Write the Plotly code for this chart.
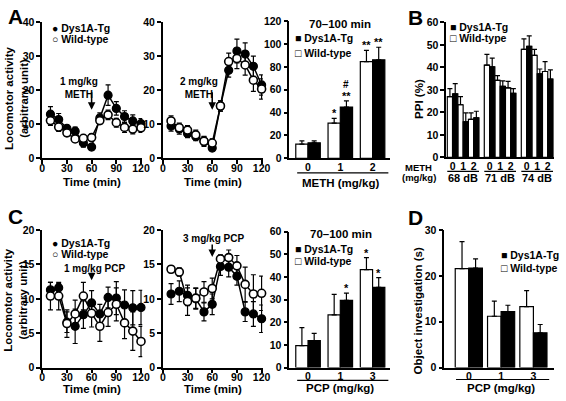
import plotly.graph_objects as go

W, H = 566, 401

# ---------------- data ----------------
time_min = [10, 20, 30, 40, 50, 60, 70, 80, 90, 100, 110, 120]
time_ticks = [0, 30, 60, 90, 120]

# A: METH time course (left 1 mg/kg, middle 2 mg/kg)
a1_tg = [13.0, 11.4, 8.8, 8.0, 4.5, 3.3, 11.9, 18.6, 14.7, 12.3, 11.0, 10.2]
a1_tg_err = [2.2, 1.8, 1.0, 1.2, 1.2, 0.8, 1.5, 3.0, 2.0, 1.7, 1.8, 1.5]
a1_wt = [11.1, 9.2, 7.5, 5.7, 5.9, 6.1, 11.1, 12.8, 10.5, 9.1, 8.6, 9.0]
a1_wt_err = [1.4, 1.3, 1.0, 1.0, 1.0, 1.0, 1.0, 1.4, 1.3, 1.5, 1.4, 1.4]
a2_tg = [9.5, 8.6, 7.3, 6.4, 5.1, 3.0, 15.4, 25.9, 31.6, 30.7, 27.1, 21.6]
a2_tg_err = [1.5, 1.5, 1.2, 1.2, 1.3, 0.8, 1.5, 2.0, 3.5, 3.3, 3.0, 3.0]
a2_wt = [11.0, 9.0, 8.3, 6.9, 5.0, 4.5, 15.4, 28.5, 29.4, 27.5, 23.0, 20.4]
a2_wt_err = [1.5, 1.4, 1.3, 1.4, 1.5, 1.2, 1.5, 2.5, 3.0, 3.0, 3.3, 3.0]

# A: 70-100 min totals
meth_doses = ["0", "1", "2"]
a3_wt = [12.4, 30.8, 84.7]
a3_wt_err = [2.9, 4.2, 9.7]
a3_tg = [13.6, 44.9, 86.2]
a3_tg_err = [1.7, 5.4, 11.0]
a3_wt_sig = ["", "*", "**"]
a3_tg_sig = ["", "**", "**"]
a3_tg_hash = ["", "#", ""]

# B: PPI
ppi_levels = ["68 dB", "71 dB", "74 dB"]
b_wt = [[27.0, 23.4, 16.9], [41.0, 34.2, 30.9], [48.0, 45.4, 38.2]]
b_wt_err = [[3.6, 3.6, 2.9], [4.8, 2.2, 2.9], [4.7, 2.6, 4.4]]
b_tg = [[28.2, 15.8, 17.6], [40.3, 31.6, 28.5], [49.4, 37.1, 34.8]]
b_tg_err = [[4.6, 4.0, 2.9], [3.8, 2.4, 2.1], [4.6, 2.2, 4.1]]

# C: PCP time course (left 1 mg/kg, middle 3 mg/kg)
c1_tg = [11.3, 11.6, 6.6, 6.0, 7.7, 9.4, 7.8, 10.2, 10.1, 9.1, 8.7, 8.75]
c1_tg_err = [1.1, 0.6, 1.5, 2.5, 2.0, 1.8, 1.4, 1.5, 2.4, 2.2, 2.5, 2.5]
c1_wt = [10.4, 10.4, 6.4, 7.8, 10.4, 7.9, 6.0, 8.0, 9.2, 6.5, 5.3, 3.8]
c1_wt_err = [2.0, 2.0, 2.0, 2.0, 2.0, 2.0, 2.2, 2.0, 2.4, 2.3, 2.8, 2.2]
c2_tg = [10.7, 11.1, 10.5, 10.0, 8.1, 9.2, 14.7, 14.6, 13.3, 8.1, 7.8, 7.1]
c2_tg_err = [1.5, 1.5, 1.5, 1.5, 1.3, 1.5, 1.3, 1.4, 1.3, 1.4, 1.8, 2.0]
c2_wt = [14.3, 13.9, 9.6, 10.1, 11.0, 11.5, 15.8, 16.0, 14.8, 12.1, 10.7, 10.8]
c2_wt_err = [0.5, 0.6, 2.0, 1.5, 1.5, 1.5, 0.6, 1.1, 1.5, 2.5, 2.8, 2.5]

# C: 70-100 min totals
pcp_doses = ["0", "1", "3"]
c3_wt = [9.7, 23.3, 43.3]
c3_wt_err = [7.9, 9.0, 5.3]
c3_tg = [11.9, 29.7, 35.4]
c3_tg_err = [3.2, 3.2, 4.3]
c3_wt_sig = ["", "", "*"]
c3_tg_sig = ["", "*", "*"]

# D: object investigation
d_wt = [21.6, 11.2, 13.3]
d_wt_err = [5.9, 3.3, 3.5]
d_tg = [21.7, 12.2, 7.6]
d_tg_err = [2.0, 1.4, 1.8]

# ---------------- helpers ----------------
FAM = "Liberation Sans, Arial, Helvetica, sans-serif"


def fx(p):
    return p / W


def fy(p):
    return 1 - p / H


def font(size):
    return dict(family=FAM, size=size, color="black", weight="bold")


fig = go.Figure()


def line_pair(tg, tg_err, wt, wt_err, xa, ya):
    fig.add_trace(go.Scatter(
        x=time_min, y=tg, xaxis=xa, yaxis=ya, mode="lines+markers",
        line=dict(color="black", width=1.5),
        marker=dict(symbol="circle", size=8, color="black",
                    line=dict(color="black", width=1.2)),
        error_y=dict(type="data", array=tg_err, color="black", thickness=1.2, width=2.5),
        cliponaxis=False, showlegend=False))
    fig.add_trace(go.Scatter(
        x=time_min, y=wt, xaxis=xa, yaxis=ya, mode="lines+markers",
        line=dict(color="black", width=1.5),
        marker=dict(symbol="circle", size=8, color="white",
                    line=dict(color="black", width=1.6)),
        error_y=dict(type="data", array=wt_err, color="black", thickness=1.2, width=2.5),
        cliponaxis=False, showlegend=False))


def bar(xs, ys, errs, color, width, xa, ya):
    fig.add_trace(go.Bar(
        x=xs, y=ys, width=width, xaxis=xa, yaxis=ya,
        marker=dict(color=color, line=dict(color="black", width=1.2)),
        error_y=dict(type="data", symmetric=False, array=errs,
                     arrayminus=[0] * len(errs), color="black", thickness=1.2, width=2.5),
        cliponaxis=False, showlegend=False))


# A time courses
line_pair(a1_tg, a1_tg_err, a1_wt, a1_wt_err, "x", "y")
line_pair(a2_tg, a2_tg_err, a2_wt, a2_wt_err, "x2", "y2")
# C time courses
line_pair(c1_tg, c1_tg_err, c1_wt, c1_wt_err, "x5", "y5")
line_pair(c2_tg, c2_tg_err, c2_wt, c2_wt_err, "x6", "y6")

# A3 bars
idx3 = list(range(len(meth_doses)))
bar([i - 0.19 for i in idx3], a3_wt, a3_wt_err, "white", 0.38, "x3", "y3")
bar([i + 0.19 for i in idx3], a3_tg, a3_tg_err, "black", 0.38, "x3", "y3")

# B bars
for g in range(len(ppi_levels)):
    bar([g * 7 + 2 * d for d in range(3)], b_wt[g], b_wt_err[g], "white", 1.0, "x4", "y4")
    bar([g * 7 + 2 * d + 1 for d in range(3)], b_tg[g], b_tg_err[g], "black", 1.0, "x4", "y4")

# C3 bars
idxp = list(range(len(pcp_doses)))
bar([i - 0.19 for i in idxp], c3_wt, c3_wt_err, "white", 0.38, "x7", "y7")
bar([i + 0.19 for i in idxp], c3_tg, c3_tg_err, "black", 0.38, "x7", "y7")

# D bars
bar([i - 0.21 for i in idxp], d_wt, d_wt_err, "white", 0.42, "x8", "y8")
bar([i + 0.21 for i in idxp], d_tg, d_tg_err, "black", 0.42, "x8", "y8")

# ---------------- axes ----------------
axcommon = dict(showline=True, linecolor="black", linewidth=1.5, showgrid=False,
                zeroline=False, tickfont=font(10.5), ticks="outside", ticklen=4,
                tickwidth=1.5, tickcolor="black")

layout = dict(
    width=W, height=H, margin=dict(l=0, r=0, t=0, b=0),
    paper_bgcolor="white", plot_bgcolor="white", barmode="overlay",
    showlegend=False,
)

specs = {
    # key: (xdom px, ydom px (top,bottom), xrange, yrange, dtick, kind)
    "": ((40, 142), (17, 157), [0, 121.5], [0, 40], 10, "time"),
    "2": ((163, 265), (17, 157), [0, 121.5], [0, 40], 10, "time"),
    "3": ((292, 395), (15.7, 157), [-0.58, 2.55], [0, 120], 20, "cat3"),
    "4": ((452, 562), (17, 156), [-0.7, 19.7], [0, 60], 10, "ppi"),
    "5": ((40, 142), (231, 372.7), [0, 121.5], [0, 20], 5, "time"),
    "6": ((163, 265), (231, 372.7), [0, 121.5], [0, 20], 5, "time"),
    "7": ((292, 395), (232.7, 372.7), [-0.58, 2.55], [0, 60], 10, "catp"),
    "8": ((450, 562), (231, 372.7), [-0.76, 2.64], [0, 30], 10, "catp"),
}

for k, (xd, yd, xr, yr, dt, kind) in specs.items():
    xa = dict(axcommon, domain=[fx(xd[0]), fx(xd[1])], range=xr,
              anchor="y" + k, fixedrange=True, ticklabelstandoff=-5)
    if kind == "time":
        xa.update(tickmode="array", tickvals=time_ticks,
                  ticktext=[str(t) for t in time_ticks])
    elif kind == "cat3":
        xa.update(tickmode="array", tickvals=idx3, ticktext=meth_doses, ticks="",
                  ticklabelstandoff=-2)
    elif kind == "catp":
        xa.update(tickmode="array", tickvals=idxp, ticktext=pcp_doses, ticks="",
                  ticklabelstandoff=-2)
    elif kind == "ppi":
        tv, tt = [], []
        for g in range(len(ppi_levels)):
            for d, lab in enumerate(meth_doses):
                tv.append(g * 7 + 2 * d + 0.5)
                tt.append(lab)
        xa.update(tickmode="array", tickvals=tv, ticktext=tt, ticks="",
                  ticklabelstandoff=-2)
    ya = dict(axcommon, domain=[fy(yd[1]), fy(yd[0])], range=yr, dtick=dt,
              tick0=0, anchor="x" + k, fixedrange=True)
    layout["xaxis" + k] = xa
    layout["yaxis" + k] = ya

fig.update_layout(**layout)

# ---------------- annotations ----------------
ann = []


def txt(x, y, s, size=10, xanchor="center", yanchor="middle", angle=0):
    ann.append(dict(xref="paper", yref="paper", x=fx(x), y=fy(y), text=s,
                    showarrow=False, font=font(size), xanchor=xanchor,
                    yanchor=yanchor, textangle=angle))


# panel letters
txt(3, 11, "A", 21, "left")
txt(411, 12, "B", 21, "left")
txt(3, 217, "C", 21, "left")
txt(411, 218, "D", 21, "left")

# axis titles
txt(91, 181.5, "Time (min)", 11.5)
txt(214, 181.5, "Time (min)", 11.5)
txt(91, 394.5, "Time (min)", 11.5)
txt(214, 394.5, "Time (min)", 11.5)
txt(13, 95, "Locomotor activity<br>(arbitrary unit)", 11.5, angle=-90)
txt(13, 303, "Locomotor activity<br>(arbitrary unit)", 11.5, angle=-90)
txt(424, 96, "PPI (%)", 11.5, angle=-90)
txt(423, 314, "Object investigation (s)", 11.5, angle=-90)
txt(344, 182.5, "METH (mg/kg)", 11.5)
txt(344, 394, "PCP (mg/kg)", 11.5)
txt(508, 394, "PCP (mg/kg)", 11.5)
txt(344, 18.5, "70\u2013100 min", 11.5)
txt(345, 235, "70\u2013100 min", 11.5)
txt(424, 166, "METH", 9.5)
txt(424, 177, "(mg/kg)", 9.5)
for g, lab in enumerate(ppi_levels):
    ann.append(dict(xref="x4", yref="paper", x=g * 7 + 2.5, y=fy(177.5), text=lab,
                    showarrow=False, font=font(11), xanchor="center", yanchor="middle"))

# legends
for (x, y1, y2, s1, s2) in [
    (48, 23, 34, "\u25cf", "\u25cb"),
    (296, 33, 48, "\u25a0", "\u25a1"),
    (454, 22, 33, "\u25a0", "\u25a1"),
    (48, 244.5, 256, "\u25cf", "\u25cb"),
    (296, 250, 263, "\u25a0", "\u25a1"),
    (506, 257, 270, "\u25a0", "\u25a1"),
]:
    txt(x, y1, s1 + " Dys1A-Tg", 10.5, "left")
    txt(x, y2, s2 + " Wild-type", 10.5, "left")

# dose annotations with arrows
txt(77, 85, "1 mg/kg<br>METH", 10)
txt(200, 85, "2 mg/kg<br>METH", 10)
txt(93, 270.5, "1 mg/kg PCP", 10)
txt(215, 240, "3 mg/kg PCP", 10)
for xa, ya, yv, alen in [("x", "y", 14.3, 19), ("x2", "y2", 14.3, 19),
                          ("x5", "y5", 12.7, 9), ("x6", "y6", 16.1, 14)]:
    ann.append(dict(xref=xa, yref=ya, x=60, y=yv, ax=0, ay=-alen, text="",
                    showarrow=True, arrowhead=2, arrowsize=1, arrowwidth=1.5,
                    arrowcolor="black"))

# significance marks
def sig(xa, ya, xs, tops, marks, yshift=-3, size=11):
    for x, t, m in zip(xs, tops, marks):
        if m:
            ann.append(dict(xref=xa, yref=ya, x=x, y=t, text=m, showarrow=False,
                            font=font(size), xanchor="center", yanchor="bottom",
                            yshift=yshift))


sig("x3", "y3", [i - 0.19 for i in idx3], [v + e for v, e in zip(a3_wt, a3_wt_err)], a3_wt_sig)
sig("x3", "y3", [i + 0.19 for i in idx3], [v + e for v, e in zip(a3_tg, a3_tg_err)], a3_tg_sig)
sig("x3", "y3", [i + 0.19 for i in idx3], [v + e for v, e in zip(a3_tg, a3_tg_err)], a3_tg_hash,
    yshift=9, size=10)
sig("x7", "y7", [i - 0.19 for i in idxp], [v + e for v, e in zip(c3_wt, c3_wt_err)], c3_wt_sig)
sig("x7", "y7", [i + 0.19 for i in idxp], [v + e for v, e in zip(c3_tg, c3_tg_err)], c3_tg_sig)

# underlines below category labels
shapes = []


def hline(x0, x1, y):
    shapes.append(dict(type="line", xref="paper", yref="paper", x0=fx(x0), x1=fx(x1),
                       y0=fy(y), y1=fy(y), line=dict(color="black", width=1.2)))


hline(300, 393, 172)
hline(300, 393, 386)
hline(462, 557, 385)
for g in range(len(ppi_levels)):
    shapes.append(dict(type="line", xref="x4", yref="paper", x0=g * 7 - 0.5,
                       x1=g * 7 + 5.5, y0=fy(170.5), y1=fy(170.5),
                       line=dict(color="black", width=1.2)))

fig.update_layout(annotations=ann, shapes=shapes)
fig.write_html("out.html", config={"displayModeBar": False},
               post_script="document.body.style.margin='0';document.body.style.overflow='hidden';")
